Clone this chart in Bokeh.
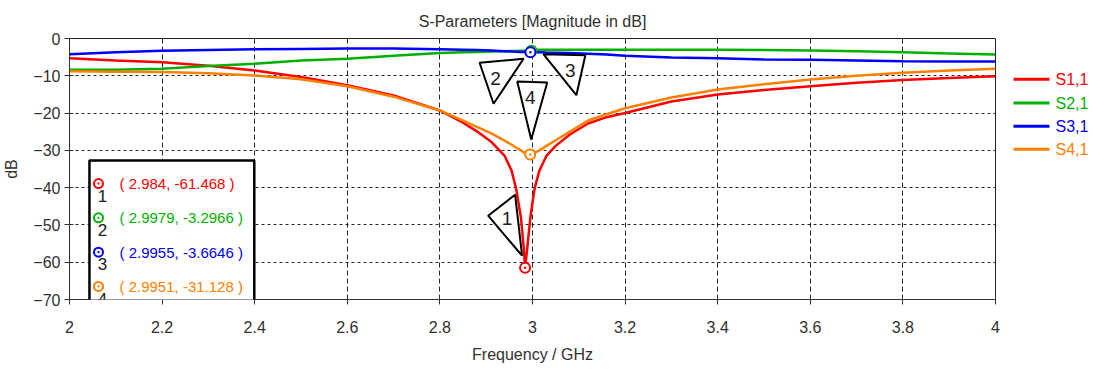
from bokeh.plotting import figure
from bokeh.layouts import row
from bokeh.models import Range1d, FixedTicker, BoxAnnotation, Label
from bokeh.core.properties import value
from bokeh.embed import file_html
from bokeh.resources import INLINE

# ---------------- data ----------------
freq = [2.0, 2.1, 2.2, 2.3, 2.4, 2.5, 2.6, 2.7, 2.8, 2.85, 2.88, 2.91, 2.94, 2.955,
        2.965, 2.975, 2.981, 2.984, 2.988, 2.992, 2.9955, 3.0, 3.005, 3.015, 3.03,
        3.05, 3.08, 3.12, 3.16, 3.2, 3.3, 3.4, 3.5, 3.6, 3.7, 3.8, 3.9, 4.0]

s11 = [-5.3, -5.9, -6.4, -7.3, -8.6, -10.3, -12.5, -15.3, -19.3, -22.6, -24.9, -27.6,
       -31.5, -35.5, -40.5, -48.0, -56.0, -61.468, -57.0, -52.0, -48.0, -44.0, -40.0,
       -35.4, -31.5, -28.8, -25.8, -22.8, -21.1, -20.0, -16.9, -15.0, -13.8, -12.8,
       -11.9, -11.1, -10.6, -10.1]

s21 = [-8.4, -8.4, -8.1, -7.4, -6.8, -5.9, -5.4, -4.6, -3.9, -3.7, -3.6, -3.5, -3.4,
       -3.35, -3.33, -3.31, -3.3, -3.3, -3.3, -3.3, -3.3, -3.2, -3.1, -3.0, -3.0, -3.0,
       -3.0, -3.0, -3.0, -3.0, -3.0, -3.0, -3.1, -3.2, -3.4, -3.7, -4.0, -4.3]

s31 = [-4.2, -3.7, -3.3, -3.1, -2.9, -2.8, -2.7, -2.7, -2.9, -3.0, -3.1, -3.2, -3.4,
       -3.5, -3.55, -3.6, -3.62, -3.64, -3.65, -3.66, -3.66, -3.7, -3.7, -3.7, -3.75,
       -3.8, -3.9, -4.1, -4.3, -4.6, -5.1, -5.3, -5.6, -5.7, -5.9, -6.1, -6.2, -6.2]

s41 = [-8.8, -8.9, -9.0, -9.3, -9.9, -10.9, -12.8, -15.6, -19.3, -22.0, -23.7, -25.4,
       -27.4, -28.5, -29.3, -30.0, -30.5, -30.8, -31.0, -31.1, -31.13, -30.9, -30.6,
       -30.0, -28.8, -27.3, -25.0, -22.0, -20.3, -18.7, -15.8, -13.7, -12.3, -11.0,
       -10.0, -9.2, -8.6, -8.1]

series_names = ["S1,1", "S2,1", "S3,1", "S4,1"]
series_colors = ["#ff0000", "#00b000", "#0000ff", "#ff8000"]

marker_ids = ["1", "2", "3", "4"]
marker_freq = [2.984, 2.9979, 2.9955, 2.9951]
marker_db = [-61.468, -3.2966, -3.6646, -31.128]

x_ticks = [2.0, 2.2, 2.4, 2.6, 2.8, 3.0, 3.2, 3.4, 3.6, 3.8, 4.0]
x_tick_labels = ["2", "2.2", "2.4", "2.6", "2.8", "3", "3.2", "3.4", "3.6", "3.8", "4"]
y_ticks = [0, -10, -20, -30, -40, -50, -60, -70]

title_text = "S-Parameters [Magnitude in dB]"
x_label = "Frequency / GHz"
y_label = "dB"

# ---------------- style ----------------
FONT = "Liberation Sans"
TXT = "#303030"

p = figure(width=1000, height=372, x_range=Range1d(2, 4), y_range=Range1d(-70, 0),
           output_backend="svg", toolbar_location=None,
           min_border_left=68, min_border_top=38, min_border_bottom=73, min_border_right=5)

p.title.text = title_text
p.title.align = "center"
p.title.text_font = FONT
p.title.text_font_size = "16px"
p.title.text_font_style = "normal"
p.title.text_color = TXT
p.title.standoff = 17

p.outline_line_color = "#202020"
p.outline_line_width = 1

for ax in (p.xaxis[0], p.yaxis[0]):
    ax.major_label_text_font = FONT
    ax.major_label_text_font_size = "16px"
    ax.major_label_text_color = TXT
    ax.axis_label_text_font = FONT
    ax.axis_label_text_font_size = "16px"
    ax.axis_label_text_font_style = "normal"
    ax.axis_label_text_color = TXT
    ax.axis_line_color = "#303030"
    ax.major_tick_line_color = "#303030"
    ax.major_tick_in = 4
    ax.major_tick_out = 5
    ax.minor_tick_line_color = None

p.xaxis.ticker = FixedTicker(ticks=x_ticks)
p.xaxis.major_label_overrides = {t: l for t, l in zip(x_ticks, x_tick_labels)}
p.xaxis.axis_label = x_label
p.xaxis.major_label_standoff = 16
p.xaxis.axis_label_standoff = 10
p.yaxis.ticker = FixedTicker(ticks=y_ticks)
p.yaxis.axis_label = y_label
p.yaxis.major_label_standoff = 4
p.yaxis.axis_label_standoff = 10

p.xgrid.grid_line_color = "black"
p.xgrid.grid_line_dash = "5 3"
p.xgrid.grid_line_alpha = 0.85
p.ygrid.grid_line_color = "black"
p.ygrid.grid_line_dash = "3 3"
p.ygrid.grid_line_alpha = 0.85

for vals, col in zip([s11, s21, s31, s41], series_colors):
    p.line(freq, vals, line_color=col, line_width=2.5)

# markers on curves
p.scatter(marker_freq, marker_db, marker="circle_dot", size=10, line_width=2,
          line_color=series_colors, fill_color="white")

# callout triangles (pixel offsets from marker point)
DX = 2.0 / 927.0
DY = 70.0 / 261.0
tri_offsets = [
    [(-37, -52), (-10, -73), (-3, -12)],
    [(-52, 12), (-8, 8), (-38, 53)],
    [(13, 2), (55, 3), (46, 43)],
    [(-13, -73), (17, -72), (1, -15)],
]
num_offsets = [(-18, -49), (-36, 28), (40, 18), (0, -57)]
tri_xs, tri_ys = [], []
for (mf, md), offs in zip(zip(marker_freq, marker_db), tri_offsets):
    tri_xs.append([mf + ox * DX for ox, oy in offs])
    tri_ys.append([md - oy * DY for ox, oy in offs])
p.patches(tri_xs, tri_ys, fill_color="white", line_color="black", line_width=2)
for mid, mf, md, (ox, oy) in zip(marker_ids, marker_freq, marker_db, num_offsets):
    p.add_layout(Label(x=mf + ox * DX, y=md - oy * DY, text=mid, text_align="center",
                       text_baseline="middle", text_font=FONT, text_font_size="19px",
                       text_color="#202020"))

# marker readout box
p.add_layout(BoxAnnotation(left=2.0431, right=2.3991, top=-32.72, bottom=-72.15,
                           fill_color="white", fill_alpha=1.0, line_color="black",
                           line_alpha=1.0, line_width=2.5))
row_y0, row_dy = -38.9, -9.2
for i, (mid, mf, md, col) in enumerate(zip(marker_ids, marker_freq, marker_db, series_colors)):
    y = row_y0 + i * row_dy
    p.scatter([2.0626], [y], marker="circle_dot", size=9, line_width=2,
              line_color=col, fill_color="white", level="overlay")
    p.add_layout(Label(x=2.108, y=y, text=f"( {mf}, {md} )", text_align="left",
                       text_baseline="middle", text_font=FONT, text_font_size="15px",
                       text_color=col, level="overlay"))
    p.add_layout(Label(x=2.0712, y=y - 3.3, text=mid, text_align="center",
                       text_baseline="middle", text_font=FONT, text_font_size="17px",
                       text_color="#202020", level="overlay"))

# legend panel to the right of the plot
lg = figure(width=93, height=372, x_range=Range1d(0, 93), y_range=Range1d(372, 0),
            output_backend="svg", toolbar_location=None, min_border=0)
lg.axis.visible = False
lg.grid.visible = False
lg.outline_line_color = None
leg_y = [58, 92, 125, 158]
lg.segment(x0=[13] * 4, y0=leg_y, x1=[49] * 4, y1=leg_y, line_color=series_colors,
           line_width=3)
lg.text(x=[55] * 4, y=leg_y, text=series_names, text_color=series_colors,
        text_font=value(FONT), text_font_size="16px", text_baseline="middle",
        text_align="left")

page = row(p, lg)
open("out.html", "w").write(file_html(page, INLINE))
